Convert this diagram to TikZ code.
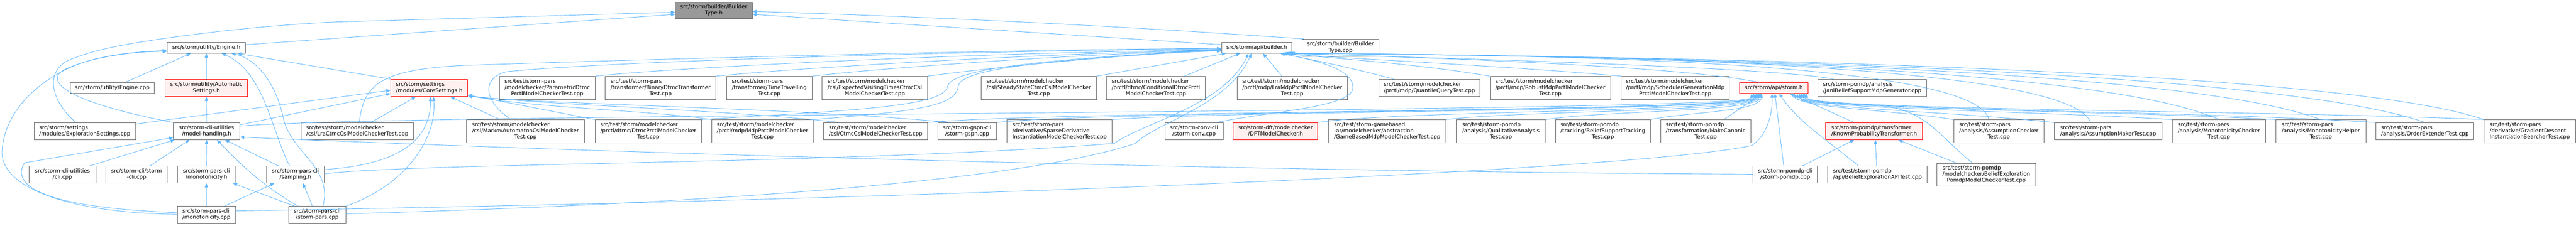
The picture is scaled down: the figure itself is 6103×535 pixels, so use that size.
\documentclass[tikz,border=0pt]{standalone}
\usepackage{fontspec}
\setmainfont{DejaVu Sans}
\usetikzlibrary{arrows.meta}
\definecolor{edgeblue}{HTML}{63B8FF}
\definecolor{boxgray}{HTML}{666666}
\definecolor{redfill}{HTML}{FFF0F0}
\definecolor{redline}{HTML}{FF0000}
\definecolor{rootfill}{HTML}{999999}
\newcommand{\tl}[2]{\begin{tabular}{@{}l@{}}#1\\\multicolumn{1}{@{}c@{}}{#2}\end{tabular}}
\newcommand{\nodefont}{\fontsize{12.8pt}{14.7pt}\selectfont}
\begin{document}
\begin{tikzpicture}[x=1pt,y=-1pt,
  box/.style={draw=boxgray, fill=white, line width=1.1pt, inner sep=0pt, font=\nodefont, align=center},
  redbox/.style={box, draw=redline, fill=redfill},
  rootbox/.style={box, fill=rootfill},
  wh/.style 2 args={minimum width=#1pt, minimum height=#2pt},
  e/.style={draw=edgeblue, line width=1.1pt, -{Triangle[length=10pt,width=8pt]}}]
\useasboundingbox (0,0) rectangle (6103,535);
% top row
\node[rootbox,wh={182}{40}] (btype) at (1691,25) {\tl{src/storm/builder/Builder}{Type.h}};
\node[box,wh={186}{25}] (eng) at (489,113.5) {src/storm/utility/Engine.h};
\node[box,wh={167}{25}] (apib) at (2977.5,113.5) {src/storm/api/builder.h};
\node[box,wh={182}{40}] (btcpp) at (3176,113) {\tl{src/storm/builder/Builder}{Type.cpp}};
% row 2
\node[box,wh={200}{25}] (engcpp) at (266,208.5) {src/storm/utility/Engine.cpp};
\node[redbox,wh={196}{41}] (auto) at (489,208.5) {\tl{src/storm/utility/Automatic}{Settings.h}};
\node[redbox,wh={182}{41}] (core) at (1017,208.5) {\tl{src/storm/settings}{/modules/CoreSettings.h}};
\node[box,wh={227}{55}] (pdtmc) at (1296.5,208.5) {\tl{src/test/storm-pars\\/modelchecker/ParametricDtmc}{PrctlModelCheckerTest.cpp}};
\node[box,wh={262}{55}] (bdtmc) at (1565,208.5) {\tl{src/test/storm-pars\\/transformer/BinaryDtmcTransformer}{Test.cpp}};
\node[box,wh={203}{55}] (ttrav) at (1822.5,208.5) {\tl{src/test/storm-pars\\/transformer/TimeTravelling}{Test.cpp}};
\node[box,wh={251}{55}] (evt) at (2072.5,208.5) {\tl{src/test/storm/modelchecker\\/csl/ExpectedVisitingTimesCtmcCsl}{ModelCheckerTest.cpp}};
\node[box,wh={274}{55}] (steady) at (2461,208.5) {\tl{src/test/storm/modelchecker\\/csl/SteadyStateCtmcCslModelChecker}{Test.cpp}};
\node[box,wh={235}{55}] (cond) at (2738.5,208.5) {\tl{src/test/storm/modelchecker\\/prctl/dtmc/ConditionalDtmcPrctl}{ModelCheckerTest.cpp}};
\node[box,wh={261}{55}] (lramdp) at (3061.5,208.5) {\tl{src/test/storm/modelchecker\\/prctl/mdp/LraMdpPrctlModelChecker}{Test.cpp}};
\node[box,wh={239}{41}] (quant) at (3386.5,208.5) {\tl{src/test/storm/modelchecker}{/prctl/mdp/QuantileQueryTest.cpp}};
\node[box,wh={286}{55}] (robust) at (3673,208.5) {\tl{src/test/storm/modelchecker\\/prctl/mdp/RobustMdpPrctlModelChecker}{Test.cpp}};
\node[box,wh={256}{55}] (sched) at (3969,208.5) {\tl{src/test/storm/modelchecker\\/prctl/mdp/SchedulerGenerationMdp}{PrctlModelCheckerTest.cpp}};
\node[redbox,wh={163}{25}] (stormh) at (4202.5,208.5) {src/storm/api/storm.h};
\node[box,wh={257}{41}] (jani) at (4435.5,208.5) {\tl{src/storm-pomdp/analysis}{/JaniBeliefSupportMdpGenerator.cpp}};
% row 3
\node[box,wh={240}{40}] (expl) at (201,311) {\tl{src/storm/settings}{/modules/ExplorationSettings.cpp}};
\node[box,wh={157}{40}] (mh) at (489.5,311) {\tl{src/storm-cli-utilities}{/model-handling.h}};
\node[box,wh={267}{40}] (lractmc) at (846.5,311) {\tl{src/test/storm/modelchecker}{/csl/LraCtmcCslModelCheckerTest.cpp}};
\node[box,wh={280}{55}] (markov) at (1245,311.5) {\tl{src/test/storm/modelchecker\\/csl/MarkovAutomatonCslModelChecker}{Test.cpp}};
\node[box,wh={252}{55}] (dtmcp) at (1536,311.5) {\tl{src/test/storm/modelchecker\\/prctl/dtmc/DtmcPrctlModelChecker}{Test.cpp}};
\node[box,wh={241}{55}] (mdpp) at (1806.5,311.5) {\tl{src/test/storm/modelchecker\\/prctl/mdp/MdpPrctlModelChecker}{Test.cpp}};
\node[box,wh={247}{40}] (ctmc) at (2074.5,311) {\tl{src/test/storm/modelchecker}{/csl/CtmcCslModelCheckerTest.cpp}};
\node[box,wh={139}{40}] (gspn) at (2291.5,311) {\tl{src/storm-gspn-cli}{/storm-gspn.cpp}};
\node[box,wh={249}{55}] (sparse) at (2510.5,311.5) {\tl{src/test/storm-pars\\/derivative/SparseDerivative}{InstantiationModelCheckerTest.cpp}};
\node[box,wh={138}{40}] (conv) at (2829,311) {\tl{src/storm-conv-cli}{/storm-conv.cpp}};
\node[redbox,wh={200}{40}] (dft) at (3022,311) {\tl{src/storm-dft/modelchecker}{/DFTModelChecker.h}};
\node[box,wh={279}{55}] (game) at (3286.5,311.5) {\tl{src/test/storm-gamebased\\-ar/modelchecker/abstraction}{/GameBasedMdpModelCheckerTest.cpp}};
\node[box,wh={212}{55}] (qual) at (3556,311.5) {\tl{src/test/storm-pomdp\\/analysis/QualitativeAnalysis}{Test.cpp}};
\node[box,wh={225}{55}] (bst) at (3797.5,311.5) {\tl{src/test/storm-pomdp\\/tracking/BeliefSupportTracking}{Test.cpp}};
\node[box,wh={214}{55}] (canon) at (4041,311.5) {\tl{src/test/storm-pomdp\\/transformation/MakeCanonic}{Test.cpp}};
\node[redbox,wh={230}{40}] (known) at (4440,311) {\tl{src/storm-pomdp/transformer}{/KnownProbabilityTransformer.h}};
\node[box,wh={213}{55}] (achk) at (4735.5,311.5) {\tl{src/test/storm-pars\\/analysis/AssumptionChecker}{Test.cpp}};
\node[box,wh={255}{40}] (amak) at (4994.5,311) {\tl{src/test/storm-pars}{/analysis/AssumptionMakerTest.cpp}};
\node[box,wh={222}{55}] (mchk) at (5257,311.5) {\tl{src/test/storm-pars\\/analysis/MonotonicityChecker}{Test.cpp}};
\node[box,wh={213}{55}] (mhelp) at (5498.5,311.5) {\tl{src/test/storm-pars\\/analysis/MonotonicityHelper}{Test.cpp}};
\node[box,wh={232}{40}] (order) at (5745,311) {\tl{src/test/storm-pars}{/analysis/OrderExtenderTest.cpp}};
\node[box,wh={217}{55}] (grad) at (5993.5,311.5) {\tl{src/test/storm-pars\\/derivative/GradientDescent}{InstantiationSearcherTest.cpp}};
% row 4
\node[box,wh={158}{40}] (cli) at (148,414) {\tl{src/storm-cli-utilities}{/cli.cpp}};
\node[box,wh={145}{40}] (scli) at (323.5,414) {\tl{src/storm-cli/storm}{-cli.cpp}};
\node[box,wh={136}{40}] (monoh) at (489,414) {\tl{src/storm-pars-cli}{/monotonicity.h}};
\node[box,wh={136}{40}] (samp) at (700,414) {\tl{src/storm-pars-cli}{/sampling.h}};
\node[box,wh={153}{40}] (spomdp) at (4229.5,414) {\tl{src/storm-pomdp-cli}{/storm-pomdp.cpp}};
\node[box,wh={236}{40}] (bapi) at (4448,414) {\tl{src/test/storm-pomdp}{/api/BeliefExplorationAPITest.cpp}};
\node[box,wh={234}{54}] (bpomdp) at (4706,414) {\tl{src/test/storm-pomdp\\/modelchecker/BeliefExploration}{PomdpModelCheckerTest.cpp}};
% row 5
\node[box,wh={138}{41}] (monocpp) at (489,509.5) {\tl{src/storm-pars-cli}{/monotonicity.cpp}};
\node[box,wh={135}{41}] (spars) at (751.5,509.5) {\tl{src/storm-pars-cli}{/storm-pars.cpp}};

% edges to BuilderType.h
\draw[e] (eng.east |- 0,106) -- (btype.west |- 0,34);
\draw[e] (apib.west |- 0,106) -- (btype.east |- 0,34);
\draw[e] (btcpp.north -| 3090,0) .. controls (2600,58) and (2200,40) .. (btype.east |- 0,27);
\draw[e] (expl.north -| 180,0) .. controls (115,235) and (105,160) .. (175,138) .. controls (240,112) and (340,98) .. (420,87) .. controls (560,68) and (700,56) .. (800,52) -- (btype.west |- 0,29);
% edges to Engine.h
\draw[e] (engcpp.north -| 296,0) -- (eng.south -| 452,0);
\draw[e] (auto.north) -- (eng.south);
\draw[e] (core.north west) -- (eng.south -| 562,0);
\draw[e] (mh.north west) .. controls (150,240) and (100,190) .. (157,163) .. controls (220,135) and (300,123) .. (eng.west |- 0,120);
\draw[e] (samp.north -| 686,0) .. controls (640,300) and (625,170) .. (eng.south -| 525,0);
\draw[e] (spars.north -| 765,0) .. controls (790,400) and (690,360) .. (672,283) .. controls (655,200) and (610,140) .. (eng.south -| 548,0);
\draw[e] (monocpp.west |- 0,508) .. controls (150,505) and (0,440) .. (5,358) .. controls (10,260) and (100,180) .. (200,147) .. controls (260,130) and (330,122) .. (eng.west |- 0,122);
% AutomaticSettings
\draw[e] (mh.north) -- (auto.south);
% CoreSettings
\draw[e] (expl.east |- 0,294) -- (core.west |- 0,214);
\draw[e] (mh.east |- 0,296) -- (core.west |- 0,222);
\draw[e] (lractmc.north -| 879,0) -- (core.south -| 985,0);
\draw[e] (markov.north -| 1185,0) -- (core.south -| 1067,0);
\draw[e] (dtmcp.north west) -- (core.east |- 0,225);
\draw[e] (mdpp.north west) .. controls (1550,262) and (1250,255) .. (core.east |- 0,226);
\draw[e] (ctmc.north -| 1990,0) .. controls (1700,258) and (1300,250) .. (core.east |- 0,227);
\draw[e] (gspn.north -| 2250,0) .. controls (1900,256) and (1300,248) .. (core.east |- 0,228);
\draw[e] (samp.east |- 0,402) .. controls (950,390) and (1020,330) .. (core.south -| 1020,0);
\draw[e] (spars.north east) .. controls (960,440) and (1035,330) .. (core.south -| 1027,0);
% model-handling.h
\draw[e] (cli.north -| 212,0) -- (mh.south -| 414,0);
\draw[e] (scli.north -| 355,0) -- (mh.south -| 449,0);
\draw[e] (monoh.north) -- (mh.south);
\draw[e] (samp.north -| 660,0) -- (mh.south -| 533,0);
\draw[e] (monocpp.west |- 0,504) .. controls (100,492) and (25,440) .. (58,386) -- (mh.west |- 0,326);
\draw[e] (spars.north -| 706,0) .. controls (620,440) and (560,380) .. (mh.south -| 514,0);
\draw[e] (spomdp.west |- 0,413) .. controls (3000,408) and (1500,365) .. (mh.east |- 0,325);
% monotonicity.h, sampling.h
\draw[e] (monocpp.north) -- (monoh.south);
\draw[e] (spars.north -| 698,0) -- (monoh.south -| 552,0);
\draw[e] (monocpp.north -| 532,0) -- (samp.south -| 650,0);
\draw[e] (spars.north -| 740,0) -- (samp.south -| 718,0);
% long edges to storm.h from the left
\draw[e] (mh.east |- 0,299) .. controls (900,268) and (4150,268) .. (stormh.south -| 4150,0);
\draw[e] (monocpp.east |- 0,500) .. controls (2400,470) and (3900,400) .. (4150,345) .. controls (4190,320) and (4200,260) .. (stormh.south -| 4198,0);
% edges into api/builder.h from below-left
\draw[e] (samp.east |- 0,412) .. controls (1000,385) and (2000,390) .. (2640,340) .. controls (2710,290) and (2900,250) .. (apib.south -| 2958,0);
\draw[e] (spars.east |- 0,507) .. controls (1800,480) and (2450,420) .. (2690,340) .. controls (2740,290) and (2910,250) .. (apib.south -| 2965,0);
\draw[e] (pdtmc.north east) .. controls (1600,160) and (2300,125) .. (apib.west |- 0,118);
\draw[e] (bdtmc.north east) .. controls (1900,160) and (2500,125) .. (apib.west |- 0,119);
\draw[e] (ttrav.north east) .. controls (2100,160) and (2600,125) .. (apib.west |- 0,120);
\draw[e] (evt.north east) .. controls (2350,160) and (2700,125) .. (apib.west |- 0,121);
\draw[e] (steady.north east) -- (apib.south -| 2905,0);
\draw[e] (cond.north -| 2806,0) -- (apib.south -| 2938,0);
\draw[e] (lramdp.north -| 3037,0) -- (apib.south -| 2992,0);
\draw[e] (lractmc.north -| 851,0) .. controls (862,200) and (900,165) .. (1100,155) .. controls (1700,135) and (2500,116) .. (apib.west |- 0,115);
\draw[e] (markov.north -| 1211,0) .. controls (1145,240) and (1140,185) .. (1200,170) .. controls (1500,140) and (2500,118) .. (apib.west |- 0,116);
\draw[e] (dtmcp.north east) .. controls (2000,262) and (2235,255) .. (2245,205) .. controls (2255,160) and (2500,140) .. (apib.west |- 0,117);
\draw[e] (mdpp.north east) .. controls (2150,265) and (2265,255) .. (2270,205) .. controls (2275,160) and (2500,142) .. (apib.west |- 0,118);
\draw[e] (conv.north -| 2882,0) .. controls (3000,265) and (3200,255) .. (3205,210) .. controls (3210,160) and (3100,140) .. (apib.south -| 3033,0);
% edges into api/builder.h from the right
\draw[e] (quant.north -| 3302,0) .. controls (3200,160) and (3100,140) .. (apib.south -| 3036,0);
\draw[e] (robust.north west) .. controls (3350,150) and (3150,138) .. (apib.south -| 3038,0);
\draw[e] (sched.north west) .. controls (3550,155) and (3200,140) .. (apib.south -| 3040,0);
\draw[e] (jani.north -| 4344,0) .. controls (4200,160) and (3500,140) .. (apib.south -| 3043,0);
\draw[e] (stormh.north -| 4168,0) .. controls (4000,160) and (3500,140) .. (apib.south -| 3046,0);
\draw[e] (achk.north -| 4712,0) .. controls (4680,140) and (3600,130) .. (apib.south -| 3048,0);
\draw[e] (amak.north -| 4953,0) .. controls (4900,140) and (3600,130) .. (apib.south -| 3050,0);
\draw[e] (mchk.north -| 5257,0) .. controls (4950,145) and (3600,130) .. (apib.south -| 3052,0);
\draw[e] (mhelp.north -| 5498,0) .. controls (5150,150) and (3600,130) .. (apib.south -| 3054,0);
\draw[e] (order.north -| 5745,0) .. controls (5350,150) and (3600,130) .. (apib.south -| 3056,0);
\draw[e] (grad.north west) .. controls (5500,150) and (3600,130) .. (apib.south -| 3058,0);
% row 3 to storm.h from the left
\draw[e] (ctmc.north east) .. controls (2500,262) and (4155,265) .. (stormh.south -| 4155,0);
\draw[e] (gspn.north east) .. controls (2600,262) and (4158,265) .. (stormh.south -| 4158,0);
\draw[e] (sparse.north east) .. controls (2900,262) and (4161,265) .. (stormh.south -| 4161,0);
\draw[e] (dft.north east) .. controls (3300,262) and (4164,265) .. (stormh.south -| 4164,0);
\draw[e] (game.north east) .. controls (3600,262) and (4167,265) .. (stormh.south -| 4167,0);
\draw[e] (qual.north east) .. controls (3800,262) and (4170,265) .. (stormh.south -| 4170,0);
\draw[e] (bst.north east) .. controls (4000,265) and (4173,265) .. (stormh.south -| 4173,0);
\draw[e] (canon.north -| 4084,0) -- (stormh.south -| 4176,0);
% right side to storm.h and KnownProbabilityTransformer.h
\draw[e] (known.north -| 4393,0) -- (stormh.south -| 4240,0);
\draw[e] (spomdp.north -| 4226,0) -- (stormh.south -| 4205,0);
\draw[e] (spomdp.north -| 4270,0) -- (known.south -| 4393,0);
\draw[e] (bapi.north -| 4403,0) .. controls (4340,340) and (4260,290) .. (stormh.south -| 4215,0);
\draw[e] (bapi.north -| 4446,0) -- (known.south -| 4443,0);
\draw[e] (bpomdp.north -| 4635,0) -- (known.south -| 4497,0);
\draw[e] (bpomdp.north -| 4673,0) .. controls (4580,310) and (4560,252) .. (4420,248) .. controls (4300,245) and (4255,240) .. (stormh.south -| 4250,0);
\draw[e] (achk.north west) .. controls (4500,262) and (4258,255) .. (stormh.south -| 4258,0);
\draw[e] (amak.north west) .. controls (4600,262) and (4264,257) .. (stormh.south -| 4264,0);
\draw[e] (mchk.north west) .. controls (4800,262) and (4268,258) .. (stormh.south -| 4268,0);
\draw[e] (mhelp.north west) .. controls (5000,262) and (4272,259) .. (stormh.south -| 4272,0);
\draw[e] (order.north west) .. controls (5200,262) and (4276,260) .. (stormh.south -| 4276,0);
\draw[e] (grad.north west) .. controls (5400,262) and (4280,261) .. (stormh.south -| 4280,0);
\end{tikzpicture}
\end{document}
